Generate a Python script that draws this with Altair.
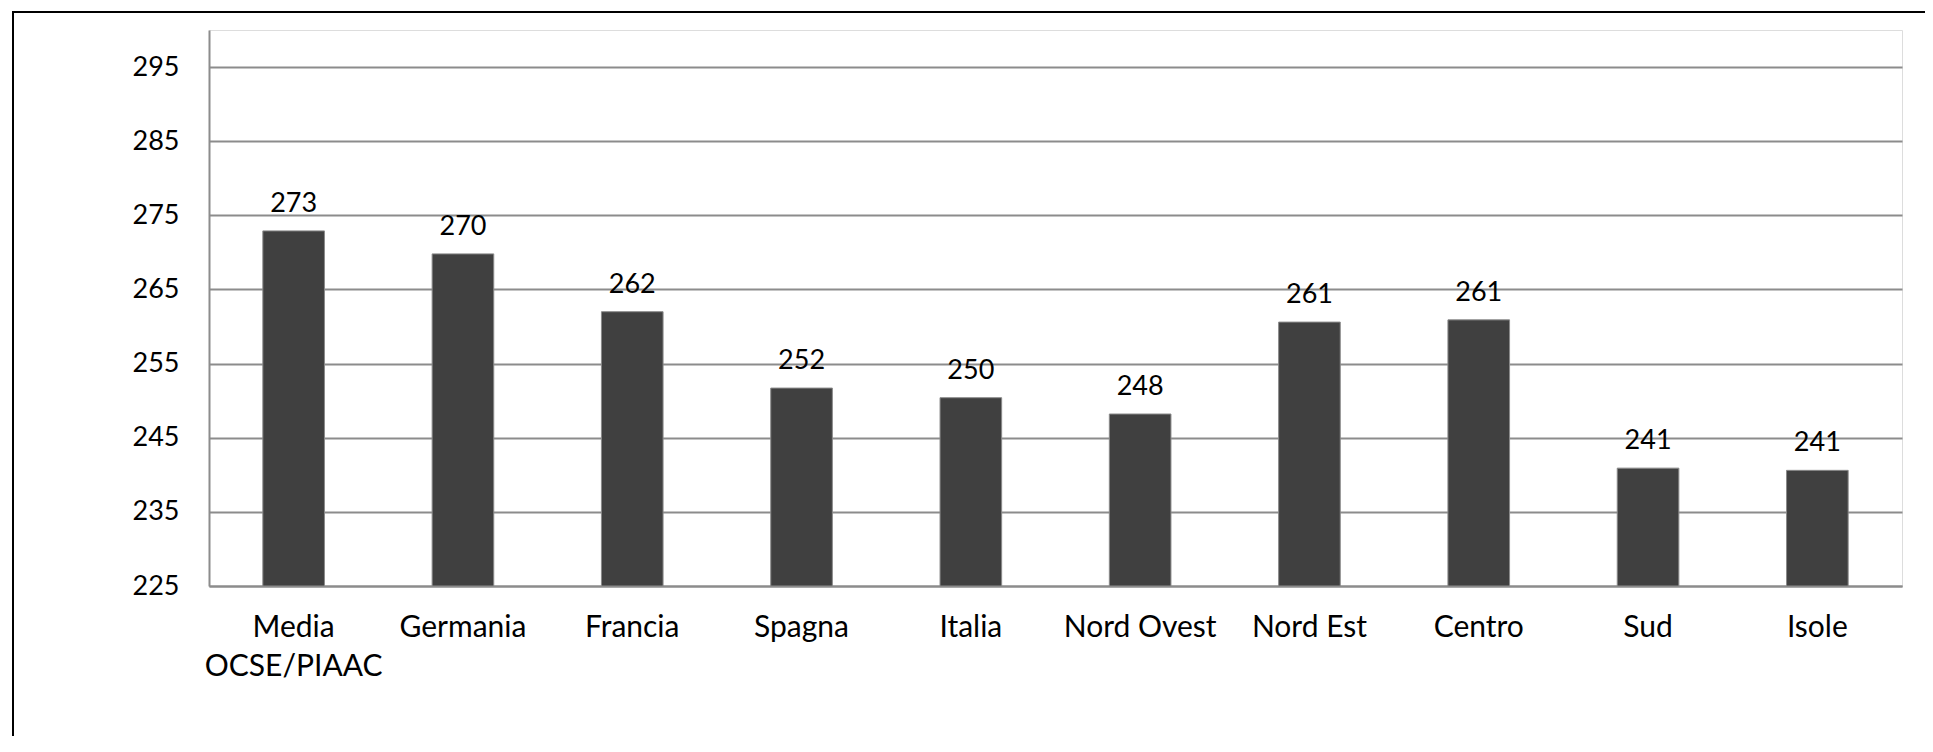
import altair as alt
import pandas as pd

categories = ["Media\nOCSE/PIAAC", "Germania", "Francia", "Spagna", "Italia",
              "Nord Ovest", "Nord Est", "Centro", "Sud", "Isole"]
values = [272.9, 269.8, 262.0, 251.7, 250.4, 248.2, 260.6, 260.9, 240.9, 240.6]
y_ticks = [225, 235, 245, 255, 265, 275, 285, 295]
baseline_value = 225

df = pd.DataFrame({"cat": categories, "val": values})

FONT = "Lato"
FS = 27
W, H = 1693, 556

x = alt.X("cat:N", sort=categories, title=None,
          scale=alt.Scale(paddingInner=0.636, paddingOuter=0.318),
          axis=alt.Axis(labelAngle=0, labelFont=FONT, labelFontSize=30,
                        labelColor="black", labelPadding=26, ticks=False,
                        domainColor="#8c8c8c", domainWidth=2,
                        labelLineHeight=39, labelBaseline="top",
                        labelExpr="split(datum.label, '\\n')"))
y = alt.Y("val:Q", title=None,
          scale=alt.Scale(domain=[225, 300], nice=False, zero=False),
          axis=alt.Axis(values=y_ticks, labelFont=FONT, labelFontSize=FS,
                        labelColor="black", labelPadding=30, ticks=False,
                        grid=True, gridColor="#8c8c8c", gridWidth=2,
                        domainColor="#8c8c8c", domainWidth=2))

base = alt.Chart(df)
bars = base.mark_bar(color="#404040", stroke="#8a8a8a", strokeWidth=1).encode(
    x=x, y=y, y2=alt.datum(baseline_value))
labels = base.mark_text(font=FONT, fontSize=FS, color="black",
                        baseline="middle", dy=-27).encode(
    x=alt.X("cat:N", sort=categories), y="val:Q",
    text=alt.Text("val:Q", format=".0f"))

frame = alt.Chart(pd.DataFrame({"a": [0]})).mark_rect(
    filled=False, stroke="black", strokeWidth=2).encode(
    x=alt.value(-196), y=alt.value(-18), x2=alt.value(3000), y2=alt.value(3000))

chart = alt.layer(bars, labels, frame).properties(
    width=W, height=H,
    autosize=alt.AutoSizeParams(type="none"),
    padding={"left": 201, "top": 22, "right": 23, "bottom": 150},
).configure_view(stroke=None).configure(background="white")

chart.save("out.html", embed_options={"renderer": "svg", "actions": False})
